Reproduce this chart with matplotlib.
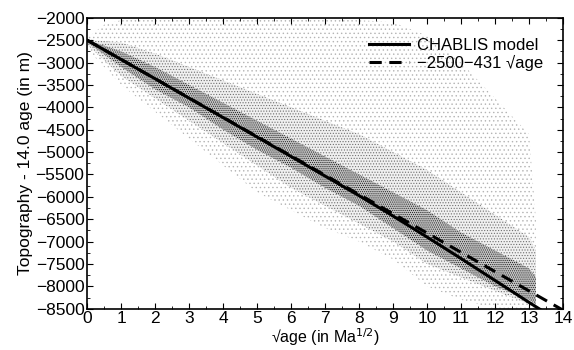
import numpy as np
import matplotlib.pyplot as plt
from matplotlib.ticker import MultipleLocator

plt.rcParams['font.family'] = ['Liberation Sans', 'DejaVu Sans']
plt.rcParams['hatch.linewidth'] = 0.5

# extent of the scatter cloud (in m)
sq_age = [0, 0.5, 1, 2, 3, 4, 5, 6, 7, 8, 9, 10, 11, 12, 13, 13.2]
sparse_top = [-2450, -2150, -2050, -2000, -2000, -2000, -2000, -2000, -2000, -2050, -2100, -2400, -3000, -3800, -4600, -6500]
sparse_bot = [-2700, -3100, -3500, -4100, -4700, -5300, -5900, -6300, -6700, -7000, -7400, -8000, -8300, -8500, -8500, -8500]
mid_top = [-2480, -2520, -2550, -2800, -3100, -3400, -3700, -4000, -4300, -4600, -5000, -5400, -5900, -6400, -6900, -7200]
mid_bot = [-2600, -2950, -3300, -3800, -4300, -4800, -5300, -5800, -6200, -6600, -7000, -7500, -7800, -8100, -8400, -8500]
core_top = [-2500, -2620, -2750, -3100, -3500, -3900, -4300, -4700, -5100, -5500, -5900, -6300, -6800, -7200, -7600, -7800]
core_bot = [-2550, -2820, -3100, -3600, -4000, -4500, -4950, -5350, -5800, -6200, -6700, -7200, -7600, -8000, -8300, -8400]

# CHABLIS model curve
model_x = [0, 2, 4, 6, 8, 9, 10, 11, 12, 13, 13.5]
model_y = [-2500, -3362, -4230, -5100, -5975, -6430, -6900, -7380, -7870, -8360, -8600]

# fit: -2500 - 431 sqrt(age)
fit_a = -2500
fit_b = -431
fit_x = np.array([0, 14])

fig = plt.figure(figsize=(5.74, 3.5), dpi=100)
ax = fig.add_axes([0.152, 0.118, 0.829, 0.831])

ax.fill_between(sq_age, sparse_bot, sparse_top, facecolor='none', edgecolor='#b4b4b4',
                hatch='....', linewidth=0)
ax.fill_between(sq_age, mid_bot, mid_top, facecolor='#f0f0f0', edgecolor='#707070',
                hatch='......', linewidth=0)
ax.fill_between(sq_age, core_bot, core_top, facecolor='#c4c4c4', edgecolor='#1a1a1a',
                hatch='........', linewidth=0)

ax.plot(model_x, model_y, color='black', lw=2.2, label='CHABLIS model')
ax.plot(fit_x, fit_a + fit_b * fit_x, color='black', lw=2.2, ls=(0, (4, 2.5)),
        label='\u22122500\u2212431 \u221aage')

ax.set_xlim(0, 14)
ax.set_ylim(-8500, -2000)
ax.xaxis.set_major_locator(MultipleLocator(1))
ax.xaxis.set_minor_locator(MultipleLocator(0.5))
ax.yaxis.set_major_locator(MultipleLocator(500))
ax.yaxis.set_minor_locator(MultipleLocator(250))
ax.tick_params(which='both', direction='in', top=True, right=True, labelsize=12.5, pad=2)
ax.tick_params(which='major', length=4)
ax.tick_params(which='minor', length=2)
for s in ax.spines.values():
    s.set_linewidth(1.2)

ax.set_xlabel('\u221aage (in Ma$^{1/2}$)', fontsize=11.5, labelpad=0)
ax.set_ylabel('Topography - 14.0 age (in m)', fontsize=12.5, labelpad=2)
ax.legend(loc='upper right', frameon=False, fontsize=12, handlelength=2.4,
          handletextpad=0.5, labelspacing=0.1, borderaxespad=0.8)

fig.savefig('out.png', dpi=100)
